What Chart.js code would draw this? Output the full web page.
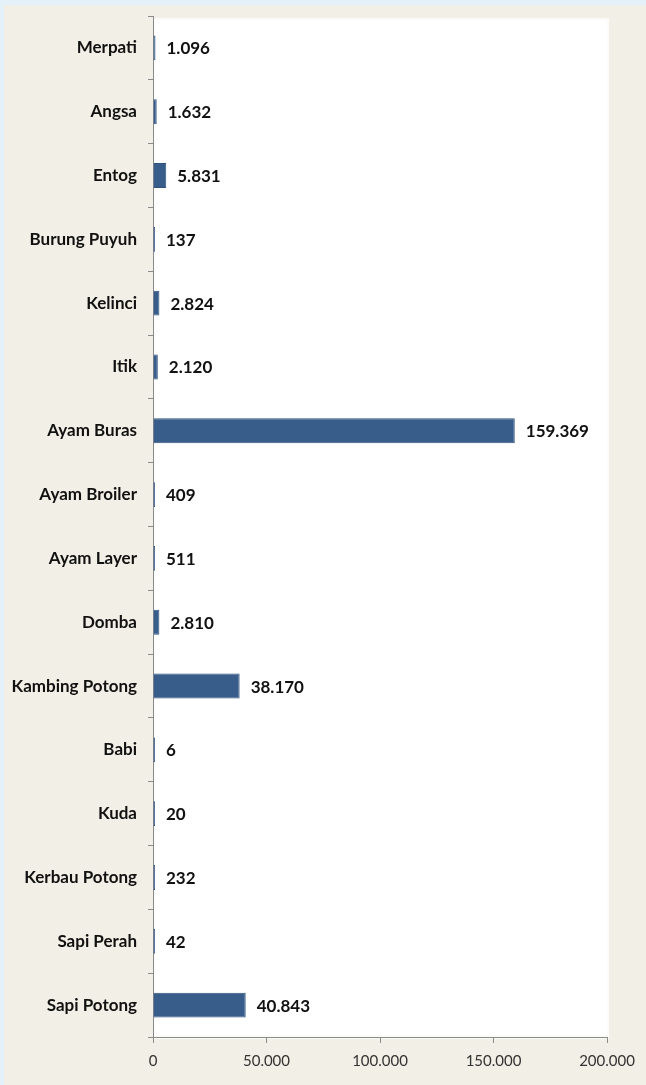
<!DOCTYPE html>
<html>
<head>
<meta charset="utf-8">
<script src="https://cdn.jsdelivr.net/npm/chart.js@4.4.1/dist/chart.umd.min.js"></script>
<style>
    html, body { margin: 0; padding: 0; background: #f2efe6; }
    #wrap { width: 646px; height: 1085px; position: relative; }
</style>
</head>
<body>
<div id="wrap"><canvas id="ternakChart" width="646" height="1085"></canvas></div>
<script>
// populasi ternak
const categories = [
    'Merpati', 'Angsa', 'Entog', 'Burung Puyuh', 'Kelinci', 'Itik',
    'Ayam Buras', 'Ayam Broiler', 'Ayam Layer', 'Domba', 'Kambing Potong',
    'Babi', 'Kuda', 'Kerbau Potong', 'Sapi Perah', 'Sapi Potong'
];
const populasi = [
    1096, 1632, 5831, 137, 2824, 2120,
    159369, 409, 511, 2810, 38170,
    6, 20, 232, 42, 40843
];
const xTicks = [0, 50000, 100000, 150000, 200000];

function formatID(v) {
    return String(v).replace(/\B(?=(\d{3})+(?!\d))/g, '.');
}

// beige background, blue strip and white plot area
const backdrop = {
    id: 'backdrop',
    beforeDraw(chart) {
        const { ctx, chartArea } = chart;
        ctx.save();
        ctx.fillStyle = '#f2efe6';
        ctx.fillRect(0, 0, chart.width, chart.height);
        ctx.fillStyle = '#e5f1f8';
        ctx.fillRect(0, 0, chart.width, 5);
        ctx.fillRect(0, 0, 4, chart.height);
        ctx.fillStyle = '#fbfbf8';
        ctx.fillRect(chartArea.left, chartArea.top + 2, chartArea.right - chartArea.left + 2, chartArea.bottom - chartArea.top);
        ctx.fillStyle = '#ffffff';
        ctx.fillRect(chartArea.left, chartArea.top + 4, chartArea.right - chartArea.left, chartArea.bottom - chartArea.top - 6);
        ctx.restore();
    }
};

// value labels at bar ends
const valueLabels = {
    id: 'valueLabels',
    afterDatasetsDraw(chart) {
        const { ctx } = chart;
        const meta = chart.getDatasetMeta(0);
        ctx.save();
        ctx.font = 'bold 17px Lato, "Open Sans", sans-serif';
        ctx.fillStyle = '#111111';
        ctx.textBaseline = 'middle';
        ctx.textAlign = 'left';
        meta.data.forEach((bar, i) => {
            ctx.fillText(formatID(populasi[i]), bar.x + 11, bar.y + 1);
        });
        ctx.restore();
    }
};

const ctx = document.getElementById('ternakChart').getContext('2d');
new Chart(ctx, {
    type: 'bar',
    data: {
        labels: categories,
        datasets: [{
            data: populasi,
            backgroundColor: '#385d8a',
            borderColor: '#2f5480',
            borderWidth: 1,
            barPercentage: 0.39,
            categoryPercentage: 1,
            minBarLength: 2,
        }],
    },
    options: {
        indexAxis: 'y',
        responsive: false,
        animation: false,
        layout: { padding: { left: 0, top: 16, right: 39, bottom: 0 } },
        plugins: {
            legend: { display: false },
            tooltip: { enabled: false },
        },
        scales: {
            x: {
                min: 0,
                max: 200000,
                afterBuildTicks(scale) {
                    scale.ticks = xTicks.map(v => ({ value: v }));
                },
                afterFit(scale) { scale.height = 48; },
                grid: { drawOnChartArea: false, drawTicks: true, tickLength: 6, color: '#8a8a8a' },
                border: { display: true, color: '#8a8a8a', width: 1 },
                ticks: {
                    padding: 9,
                    color: '#333333',
                    font: { family: 'Lato, "Open Sans", sans-serif', size: 15 },
                    callback: v => formatID(v),
                    maxRotation: 0,
                },
            },
            y: {
                afterFit(scale) {
                    scale.width = 153;
                    scale.paddingTop = 0;
                    scale.paddingBottom = 0;
                },
                grid: { drawOnChartArea: false, drawTicks: true, tickLength: 5, color: '#8a8a8a', offset: true },
                border: { display: true, color: '#8a8a8a', width: 1 },
                ticks: {
                    padding: 11,
                    color: '#111111',
                    font: { family: 'Lato, "Open Sans", sans-serif', size: 17, weight: 'bold' },
                },
            },
        },
    },
    plugins: [backdrop, valueLabels],
});
</script>
</body>
</html>
